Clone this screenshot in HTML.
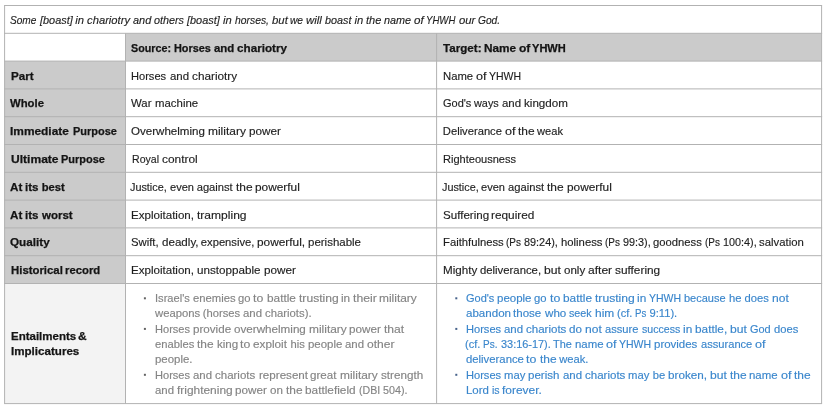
<!DOCTYPE html>
<html><head><meta charset="utf-8"><style>
html,body{margin:0;padding:0;background:#fff}
body{width:825px;height:410px;overflow:hidden;position:relative;font-family:"Liberation Sans",sans-serif;font-size:11.2px;color:#1e1e1e}
svg{position:absolute;left:0;top:0}
#t{position:absolute;left:0;top:0;width:825px;height:410px;will-change:transform}
#t div{position:absolute;left:0;width:825px;height:20px;line-height:20px;white-space:pre;-webkit-text-stroke:.15px}
#t span{position:absolute;top:0;transform-origin:0 0}
#t .bd{font-weight:bold;color:#141414;-webkit-text-stroke:.25px}.i{font-style:italic}.g{color:#848484}.b{color:#3a86cc}
</style></head><body>
<svg width="825" height="410" viewBox="0 0 825 410"><rect x="125.5" y="33.3" width="696.1" height="27.8" fill="#cbcbcb"/><rect x="4.6" y="61.1" width="120.9" height="222.4" fill="#cbcbcb"/><rect x="4.6" y="283.5" width="120.9" height="120.1" fill="#f3f3f3"/><g stroke="#b2b2b2" stroke-width="1" fill="none"><path d="M4.1 5.5H822.1"/><path d="M4.1 33.3H822.1"/><path d="M4.1 61.1H822.1"/><path d="M4.1 88.9H822.1"/><path d="M4.1 116.7H822.1"/><path d="M4.1 144.5H822.1"/><path d="M4.1 172.3H822.1"/><path d="M4.1 200.1H822.1"/><path d="M4.1 227.9H822.1"/><path d="M4.1 255.7H822.1"/><path d="M4.1 283.5H822.1"/><path d="M4.1 403.6H822.1"/><path d="M4.6 5.5V403.6"/><path d="M821.6 5.5V403.6"/><path d="M125.5 33.3V403.6"/><path d="M436.6 33.3V403.6"/></g><rect x="143.9" y="297.3" width="2" height="2" fill="#626262"/><rect x="455.3" y="297.3" width="2" height="2" fill="#46628a"/><rect x="143.9" y="327.9" width="2" height="2" fill="#626262"/><rect x="455.3" y="327.9" width="2" height="2" fill="#46628a"/><rect x="143.9" y="373.8" width="2" height="2" fill="#626262"/><rect x="455.3" y="373.8" width="2" height="2" fill="#46628a"/></svg>
<div id="t">
<div class="i" style="top:10px"><span style="left:10.21px;transform:scaleX(0.904)">Some </span><span style="left:39.54px;transform:scaleX(0.976)">[boast] </span><span style="left:75.3px">in </span><span style="left:87.1px">chariotry </span><span style="left:133.13px;transform:scaleX(0.975)">and </span><span style="left:154.42px;transform:scaleX(0.965)">others </span><span style="left:187.36px;transform:scaleX(0.976)">[boast] </span><span style="left:223.12px">in </span><span style="left:234.91px;transform:scaleX(0.926)">horses, </span><span style="left:271.67px;transform:scaleX(1.017)">but </span><span style="left:290.47px;transform:scaleX(0.912)">we </span><span style="left:306.34px;transform:scaleX(1.017)">will </span><span style="left:325.18px;transform:scaleX(0.966)">boast </span><span style="left:354.61px">in </span><span style="left:366.23px;transform:scaleX(0.982)">the </span><span style="left:384.37px;transform:scaleX(0.966)">name </span><span style="left:414.31px;transform:scaleX(1.036)">of </span><span style="left:426.44px;transform:scaleX(0.86)">YHWH </span><span style="left:458.79px;transform:scaleX(1.012)">our </span><span style="left:478.31px;transform:scaleX(0.912)">God.</span></div>
<div class="bd" style="top:38px"><span style="left:131.49px;transform:scaleX(0.961)">Source: </span><span style="left:174.19px;transform:scaleX(0.973)">Horses </span><span style="left:214.01px;transform:scaleX(1.023)">and </span><span style="left:237.3px;transform:scaleX(1.045)">chariotry</span></div>
<div class="bd" style="top:38px"><span style="left:442.79px;transform:scaleX(1.038)">Target: </span><span style="left:483.81px;transform:scaleX(1.055)">Name </span><span style="left:518.89px;transform:scaleX(1.076)">of </span><span style="left:532.43px;transform:scaleX(0.989)">YHWH</span></div>
<div class="bd" style="top:66px"><span style="left:10.5px;transform:scaleX(1.038)">Part</span></div>
<div class="" style="top:66px"><span style="left:131.45px;transform:scaleX(0.991)">Horses </span><span style="left:169.51px;transform:scaleX(1.023)">and </span><span style="left:191.75px;transform:scaleX(1.053)">chariotry</span></div>
<div class="" style="top:66px"><span style="left:442.84px;transform:scaleX(1.009)">Name </span><span style="left:475.93px;transform:scaleX(1.128)">of </span><span style="left:488.63px;transform:scaleX(0.939)">YHWH</span></div>
<div class="bd" style="top:93px"><span style="left:10.29px;transform:scaleX(1.012)">Whole</span></div>
<div class="" style="top:93px"><span style="left:131.39px;transform:scaleX(1.017)">War </span><span style="left:154.79px;transform:scaleX(1.02)">machine</span></div>
<div class="" style="top:93px"><span style="left:442.81px;transform:scaleX(0.982)">God's </span><span style="left:474.26px;transform:scaleX(0.972)">ways </span><span style="left:501.99px;transform:scaleX(1.023)">and </span><span style="left:524.27px;transform:scaleX(1.038)">kingdom</span></div>
<div class="bd" style="top:121px"><span style="left:10.48px;transform:scaleX(1.064)">Immediate </span><span style="left:72.51px;transform:scaleX(0.981)">Purpose</span></div>
<div class="" style="top:121px"><span style="left:131.41px;transform:scaleX(1.034)">Overwhelming </span><span style="left:207.84px;transform:scaleX(1.069)">military </span><span style="left:248.73px;transform:scaleX(1.048)">power</span></div>
<div class="" style="top:121px"><span style="left:442.85px">Deliverance </span><span style="left:504.95px;transform:scaleX(1.128)">of </span><span style="left:517.86px;transform:scaleX(1.066)">the </span><span style="left:537.45px;transform:scaleX(0.993)">weak</span></div>
<div class="bd" style="top:149px"><span style="left:10.5px;transform:scaleX(1.078)">Ultimate </span><span style="left:61.21px;transform:scaleX(0.981)">Purpose</span></div>
<div class="" style="top:149px"><span style="left:131.5px;transform:scaleX(0.944)">Royal </span><span style="left:161.65px;transform:scaleX(1.063)">control</span></div>
<div class="" style="top:149px"><span style="left:442.86px;transform:scaleX(0.987)">Righteousness</span></div>
<div class="bd" style="top:177px"><span style="left:10.01px;transform:scaleX(1.04)">At </span><span style="left:25.3px;transform:scaleX(1.035)">its </span><span style="left:41.69px">best</span></div>
<div class="" style="top:177px"><span style="left:130.28px;transform:scaleX(0.967)">Justice, </span><span style="left:169.71px;transform:scaleX(0.987)">even </span><span style="left:196.66px">against </span><span style="left:235.83px;transform:scaleX(1.066)">the </span><span style="left:255.45px;transform:scaleX(1.06)">powerful</span></div>
<div class="" style="top:177px"><span style="left:441.68px;transform:scaleX(0.967)">Justice, </span><span style="left:481.11px;transform:scaleX(0.987)">even </span><span style="left:508.06px">against </span><span style="left:547.23px;transform:scaleX(1.066)">the </span><span style="left:566.85px;transform:scaleX(1.06)">powerful</span></div>
<div class="bd" style="top:205px"><span style="left:10.01px;transform:scaleX(1.04)">At </span><span style="left:25.3px;transform:scaleX(1.035)">its </span><span style="left:41.72px;transform:scaleX(1.028)">worst</span></div>
<div class="" style="top:205px"><span style="left:131.42px;transform:scaleX(1.034)">Exploitation, </span><span style="left:196.92px;transform:scaleX(1.077)">trampling</span></div>
<div class="" style="top:205px"><span style="left:442.73px;transform:scaleX(1.035)">Suffering </span><span style="left:491.38px;transform:scaleX(1.057)">required</span></div>
<div class="bd" style="top:232px"><span style="left:10.45px;transform:scaleX(1.048)">Quality</span></div>
<div class="" style="top:232px"><span style="left:131.35px;transform:scaleX(1.011)">Swift, </span><span style="left:161.66px;transform:scaleX(1.037)">deadly, </span><span style="left:200.87px">expensive, </span><span style="left:257.09px;transform:scaleX(1.06)">powerful, </span><span style="left:307.88px;transform:scaleX(1.026)">perishable</span></div>
<div class="" style="top:232px"><span style="left:442.84px;transform:scaleX(1.007)">Faithfulness </span><span style="left:506.34px;transform:scaleX(0.89)">(Ps </span><span style="left:524.33px;transform:scaleX(0.971)">89:24), </span><span style="left:560.88px;transform:scaleX(1.011)">holiness </span><span style="left:605.11px;transform:scaleX(0.89)">(Ps </span><span style="left:623.07px;transform:scaleX(0.967)">99:3), </span><span style="left:653.04px;transform:scaleX(1.006)">goodness </span><span style="left:704.61px;transform:scaleX(0.89)">(Ps </span><span style="left:722.68px;transform:scaleX(0.968)">100:4), </span><span style="left:759.24px;transform:scaleX(1.014)">salvation</span></div>
<div class="bd" style="top:260px"><span style="left:10.51px;transform:scaleX(1.017)">Historical </span><span style="left:65.32px;transform:scaleX(1.011)">record</span></div>
<div class="" style="top:260px"><span style="left:131.42px;transform:scaleX(1.034)">Exploitation, </span><span style="left:197.05px;transform:scaleX(1.041)">unstoppable </span><span style="left:263.57px;transform:scaleX(1.048)">power</span></div>
<div class="" style="top:260px"><span style="left:442.81px;transform:scaleX(1.039)">Mighty </span><span style="left:479.99px;transform:scaleX(1.012)">deliverance, </span><span style="left:543.74px;transform:scaleX(1.084)">but </span><span style="left:563.7px;transform:scaleX(1.034)">only </span><span style="left:587.73px;transform:scaleX(1.077)">after </span><span style="left:614.87px;transform:scaleX(1.058)">suffering</span></div>
<div class="bd" style="top:326px"><span style="left:10.5px;transform:scaleX(1.028)">Entailments </span><span style="left:78.4px;transform:scaleX(1.063)">&amp;</span></div>
<div class="bd" style="top:341px"><span style="left:10.5px;transform:scaleX(1.036)">Implicatures</span></div>
<div class="g" style="top:288px"><span style="left:154.94px;transform:scaleX(0.992)">Israel's </span><span style="left:192.79px;transform:scaleX(1.006)">enemies </span><span style="left:237.96px;transform:scaleX(1.005)">go </span><span style="left:253.42px;transform:scaleX(1.102)">to </span><span style="left:266.79px;transform:scaleX(1.057)">battle </span><span style="left:298.56px;transform:scaleX(1.082)">trusting </span><span style="left:340.62px;transform:scaleX(1.054)">in </span><span style="left:352.72px;transform:scaleX(1.093)">their </span><span style="left:379.41px;transform:scaleX(1.066)">military</span></div>
<div class="g" style="top:303px"><span style="left:155.04px;transform:scaleX(1.008)">weapons </span><span style="left:202.83px">(horses </span><span style="left:243.05px;transform:scaleX(1.02)">and </span><span style="left:265.25px;transform:scaleX(1.013)">chariots).</span></div>
<div class="g" style="top:319px"><span style="left:155.06px;transform:scaleX(0.988)">Horses </span><span style="left:193.18px;transform:scaleX(1.039)">provide </span><span style="left:234.3px;transform:scaleX(1.041)">overwhelming </span><span style="left:308.59px;transform:scaleX(1.066)">military </span><span style="left:349.36px;transform:scaleX(1.045)">power </span><span style="left:383.99px;transform:scaleX(1.083)">that</span></div>
<div class="g" style="top:334px"><span style="left:155.04px">enables </span><span style="left:197.0px;transform:scaleX(1.063)">the </span><span style="left:216.55px;transform:scaleX(1.036)">king </span><span style="left:240.12px;transform:scaleX(1.102)">to </span><span style="left:253.44px;transform:scaleX(1.049)">exploit </span><span style="left:290.47px">his </span><span style="left:307.85px;transform:scaleX(1.023)">people </span><span style="left:345.11px;transform:scaleX(1.02)">and </span><span style="left:367.28px;transform:scaleX(1.076)">other</span></div>
<div class="g" style="top:349px"><span style="left:155.1px;transform:scaleX(1.021)">people.</span></div>
<div class="g" style="top:365px"><span style="left:155.06px;transform:scaleX(0.988)">Horses </span><span style="left:193.01px;transform:scaleX(1.02)">and </span><span style="left:215.2px;transform:scaleX(1.028)">chariots </span><span style="left:258.55px;transform:scaleX(1.037)">represent </span><span style="left:310.25px;transform:scaleX(1.034)">great </span><span style="left:339.72px;transform:scaleX(1.066)">military </span><span style="left:380.55px;transform:scaleX(1.042)">strength</span></div>
<div class="g" style="top:380px"><span style="left:154.91px;transform:scaleX(1.02)">and </span><span style="left:176.96px;transform:scaleX(1.065)">frightening </span><span style="left:235.07px;transform:scaleX(1.045)">power </span><span style="left:269.84px;transform:scaleX(1.037)">on </span><span style="left:285.67px;transform:scaleX(1.063)">the </span><span style="left:305.24px;transform:scaleX(1.056)">battlefield </span><span style="left:358.6px;transform:scaleX(0.947)">(DBI </span><span style="left:382.97px;transform:scaleX(0.961)">504).</span></div>
<div class="b" style="top:288px"><span style="left:465.61px;transform:scaleX(0.982)">God's </span><span style="left:497.11px;transform:scaleX(1.026)">people </span><span style="left:534.2px;transform:scaleX(1.008)">go </span><span style="left:549.7px;transform:scaleX(1.105)">to </span><span style="left:563.1px;transform:scaleX(1.06)">battle </span><span style="left:594.96px;transform:scaleX(1.085)">trusting </span><span style="left:637.14px;transform:scaleX(1.057)">in </span><span style="left:649.07px;transform:scaleX(0.939)">YHWH </span><span style="left:684.43px;transform:scaleX(0.982)">because </span><span style="left:729.04px;transform:scaleX(1.006)">he </span><span style="left:744.61px">does </span><span style="left:771.85px;transform:scaleX(1.078)">not</span></div>
<div class="b" style="top:303px"><span style="left:465.51px;transform:scaleX(1.034)">abandon </span><span style="left:513.47px;transform:scaleX(1.032)">those </span><span style="left:544.75px;transform:scaleX(1.038)">who </span><span style="left:569.28px;transform:scaleX(0.958)">seek </span><span style="left:594.99px;transform:scaleX(1.067)">him </span><span style="left:616.91px;transform:scaleX(0.987)">(cf. </span><span style="left:635.15px;transform:scaleX(0.864)">Ps </span><span style="left:649.44px">9:11).</span></div>
<div class="b" style="top:319px"><span style="left:465.65px;transform:scaleX(0.991)">Horses </span><span style="left:503.71px;transform:scaleX(1.023)">and </span><span style="left:525.96px;transform:scaleX(1.031)">chariots </span><span style="left:569.4px;transform:scaleX(1.038)">do </span><span style="left:585.41px;transform:scaleX(1.078)">not </span><span style="left:605.18px;transform:scaleX(0.996)">assure </span><span style="left:641.8px;transform:scaleX(0.946)">success </span><span style="left:683.07px;transform:scaleX(1.057)">in </span><span style="left:695.39px;transform:scaleX(1.056)">battle, </span><span style="left:730.23px;transform:scaleX(1.084)">but </span><span style="left:750.17px;transform:scaleX(0.979)">God </span><span style="left:774.08px">does</span></div>
<div class="b" style="top:334px"><span style="left:465.25px;transform:scaleX(0.987)">(cf. </span><span style="left:483.47px;transform:scaleX(0.891)">Ps. </span><span style="left:500.68px;transform:scaleX(0.975)">33:16-17). </span><span style="left:552.87px;transform:scaleX(0.974)">The </span><span style="left:574.74px;transform:scaleX(1.021)">name </span><span style="left:606.28px;transform:scaleX(1.128)">of </span><span style="left:618.97px;transform:scaleX(0.939)">YHWH </span><span style="left:654.3px;transform:scaleX(1.025)">provides </span><span style="left:700.6px;transform:scaleX(0.994)">assurance </span><span style="left:754.89px;transform:scaleX(1.128)">of</span></div>
<div class="b" style="top:349px"><span style="left:465.63px;transform:scaleX(1.012)">deliverance </span><span style="left:526.41px;transform:scaleX(1.105)">to </span><span style="left:539.64px;transform:scaleX(1.066)">the </span><span style="left:559.23px">weak.</span></div>
<div class="b" style="top:365px"><span style="left:465.65px;transform:scaleX(0.991)">Horses </span><span style="left:503.89px;transform:scaleX(1.009)">may </span><span style="left:528.22px;transform:scaleX(1.03)">perish </span><span style="left:562.59px;transform:scaleX(1.023)">and </span><span style="left:584.84px;transform:scaleX(1.031)">chariots </span><span style="left:628.34px;transform:scaleX(1.009)">may </span><span style="left:652.69px">be </span><span style="left:668.23px;transform:scaleX(1.045)">broken, </span><span style="left:709.87px;transform:scaleX(1.084)">but </span><span style="left:729.69px;transform:scaleX(1.066)">the </span><span style="left:749.31px;transform:scaleX(1.021)">name </span><span style="left:780.86px;transform:scaleX(1.128)">of </span><span style="left:793.76px;transform:scaleX(1.066)">the</span></div>
<div class="b" style="top:380px"><span style="left:465.62px;transform:scaleX(1.023)">Lord </span><span style="left:491.73px;transform:scaleX(0.944)">is </span><span style="left:502.3px;transform:scaleX(1.066)">forever.</span></div>
</div>
</body></html>
